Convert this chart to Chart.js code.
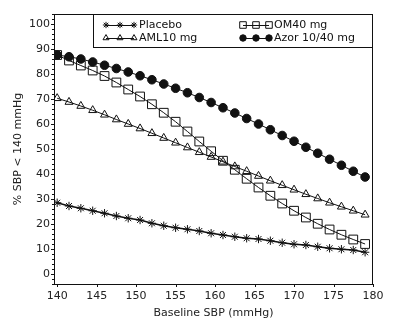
<!DOCTYPE html>
<html>
<head>
<meta charset="utf-8">
<script src="https://cdn.jsdelivr.net/npm/chart.js@4.4.1/dist/chart.umd.min.js"></script>
<style>
  html, body { margin: 0; padding: 0; background: #fff; }
  #wrap { width: 400px; height: 327px; position: relative; }
</style>
</head>
<body>
<div id="wrap"><canvas id="sbp-chart"></canvas></div>
<script>
const baselineSbp = [140, 141.5, 143, 144.5, 146, 147.5, 149, 150.5, 152, 153.5, 155, 156.5, 158, 159.5,
  161, 162.5, 164, 165.5, 167, 168.5, 170, 171.5, 173, 174.5, 176, 177.5, 179];

const placebo = [28.5, 27.2, 26.3, 25.3, 24.3, 23.2, 22.3, 21.6, 20.3, 19.3, 18.5, 17.9, 17.2, 16.3,
  15.6, 14.9, 14.3, 14.0, 13.3, 12.5, 11.9, 11.6, 10.9, 10.3, 9.9, 9.6, 8.7];
const om40 = [87.6, 85.4, 83.4, 81.4, 79.2, 76.6, 73.8, 71.0, 67.9, 64.5, 60.9, 57.0, 53.0, 49.1,
  45.3, 41.7, 38.1, 34.6, 31.3, 28.2, 25.3, 22.6, 20.1, 17.8, 15.7, 13.8, 12.0];
const aml10 = [70.3, 68.8, 67.2, 65.5, 63.7, 61.8, 60.0, 58.2, 56.3, 54.4, 52.5, 50.6, 48.7, 46.8,
  44.9, 43.0, 41.1, 39.2, 37.3, 35.5, 33.7, 31.9, 30.2, 28.5, 26.9, 25.3, 23.7];
const azor = [87.6, 86.9, 86.0, 84.8, 83.5, 82.2, 80.8, 79.3, 77.7, 76.0, 74.3, 72.5, 70.6, 68.6,
  66.5, 64.4, 62.2, 60.0, 57.7, 55.4, 53.1, 50.7, 48.3, 45.9, 43.5, 41.1, 38.8];

const xTicks = [140, 145, 150, 155, 160, 165, 170, 175, 180];
const yTicks = [0, 10, 20, 30, 40, 50, 60, 70, 80, 90, 100];

const FONT = 'DejaVu Sans';
const INK = '#111';

const pts = (ys) => ys.map((y, i) => ({ x: baselineSbp[i], y }));

function series(label, data, style, radius, fill, order, width = 1) {
  return {
    label,
    data: pts(data),
    borderColor: INK,
    borderWidth: width,
    pointStyle: style,
    pointRadius: radius,
    pointBorderColor: INK,
    pointBorderWidth: 1,
    pointBackgroundColor: fill,
    backgroundColor: fill,
    tension: 0,
    order,
  };
}

const datasets = [
  series('Placebo', placebo, 'star', 4.2, 'transparent', 4, 1.4),
  series('OM40 mg', om40, 'rect', 6.2, 'transparent', 2),
  series('AML10 mg', aml10, 'triangle', 4.6, 'transparent', 3),
  series('Azor 10/40 mg', azor, 'circle', 4.3, INK, 1),
];

// box round the plot + small tick marks
const framePlugin = {
  id: 'frame',
  afterDraw(chart) {
    const { ctx, chartArea: a, scales } = chart;
    ctx.save();
    ctx.strokeStyle = INK;
    ctx.lineWidth = 1;
    ctx.strokeRect(a.left + 0.5, a.top + 0.5, a.right - a.left - 1, a.bottom - a.top);
    ctx.beginPath();
    for (let v = -4; v <= 104; v += 2) {
      const y = Math.round(scales.y.getPixelForValue(v)) + 0.5;
      const len = v % 10 === 0 && v >= 0 && v <= 100 ? 3 : 2;
      ctx.moveTo(a.left, y);
      ctx.lineTo(a.left - len, y);
    }
    for (const v of xTicks) {
      const x = Math.round(scales.x.getPixelForValue(v)) + 0.5;
      ctx.moveTo(x, a.bottom);
      ctx.lineTo(x, a.bottom + 3);
    }
    ctx.stroke();
    ctx.restore();
  },
};

// legend drawn in a box at the top right of the plot
const legendBox = {
  id: 'legendBox',
  afterDraw(chart) {
    const { ctx } = chart;
    const box = { left: 93, top: 14, right: 372, bottom: 47 };
    const cols = [{ sym: 106, text: 139 }, { sym: 243, text: 274 }];
    const rows = [25, 38];
    ctx.save();
    ctx.fillStyle = '#fff';
    ctx.fillRect(box.left, box.top, box.right - box.left, box.bottom - box.top);
    ctx.strokeStyle = INK;
    ctx.lineWidth = 1;
    ctx.strokeRect(box.left + 0.5, box.top + 0.5, box.right - box.left, box.bottom - box.top);
    ctx.font = `11px "${FONT}"`;
    ctx.textBaseline = 'middle';
    chart.data.datasets.forEach((ds, i) => {
      const c = cols[i % 2];
      const y = rows[Math.floor(i / 2)];
      const span = i % 2 === 0 ? 28 : 26;
      ctx.beginPath();
      ctx.strokeStyle = INK;
      ctx.moveTo(c.sym, y + 0.5);
      ctx.lineTo(c.sym + span, y + 0.5);
      ctx.stroke();
      for (let k = 0; k < 3; k++) {
        ctx.fillStyle = ds.pointBackgroundColor === 'transparent' ? 'rgba(0,0,0,0)' : INK;
        ctx.strokeStyle = INK;
        Chart.helpers.drawPoint(ctx, {
          pointStyle: ds.pointStyle,
          radius: ds.pointRadius * 0.75,
          rotation: 0,
          borderWidth: 1,
        }, c.sym + (span / 2) * k, y);
      }
      ctx.fillStyle = INK;
      ctx.fillText(ds.label, c.text, y);
    });
    ctx.restore();
  },
};

new Chart(document.getElementById('sbp-chart'), {
  type: 'line',
  data: { datasets },
  plugins: [framePlugin, legendBox],
  options: {
    responsive: true,
    maintainAspectRatio: false,
    animation: false,
    layout: { padding: { top: 14, right: 27, left: 0, bottom: 0 } },
    plugins: { legend: { display: false }, tooltip: { enabled: false } },
    scales: {
      x: {
        type: 'linear',
        min: 139.6,
        max: 180,
        afterBuildTicks: (s) => { s.ticks = xTicks.map(v => ({ value: v })); },
        afterFit: (s) => { s.height = 43; },
        grid: { display: false, drawTicks: false },
        border: { display: true, color: INK, width: 1 },
        ticks: { color: '#222', font: { family: FONT, size: 11 }, padding: 6, maxRotation: 0 },
        title: {
          display: true,
          text: 'Baseline SBP (mmHg)',
          color: '#222',
          font: { family: FONT, size: 11 },
          padding: { top: 0, bottom: 7 },
        },
      },
      y: {
        min: -4,
        max: 104,
        afterBuildTicks: (s) => { s.ticks = yTicks.map(v => ({ value: v })); },
        afterFit: (s) => { s.width = 54; },
        grid: { display: false, drawTicks: false },
        border: { display: true, color: INK, width: 1 },
        ticks: { color: '#222', font: { family: FONT, size: 11 }, padding: 4 },
        title: {
          display: true,
          text: '% SBP < 140 mmHg',
          color: '#222',
          font: { family: FONT, size: 11 },
          padding: { top: 12, bottom: 0 },
        },
      },
    },
  },
});
</script>
</body>
</html>
